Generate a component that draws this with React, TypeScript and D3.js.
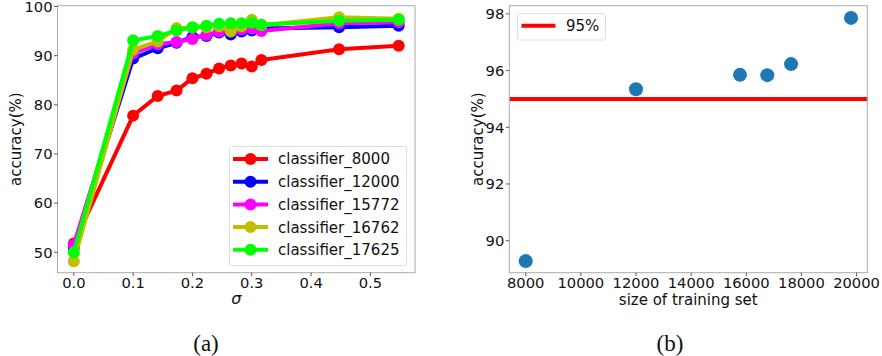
import React from "react";
import * as d3 from "d3";

const sigma = [0, 0.1, 0.1414, 0.1732, 0.2, 0.2236, 0.2449, 0.2646, 0.2828, 0.3, 0.3162, 0.4472, 0.5477];
const acc8000 = [51.8, 77.8, 81.8, 82.9, 85.4, 86.3, 87.4, 88.0, 88.4, 87.8, 89.1, 91.3, 92.0];
const acc12000 = [51.0, 89.4, 91.5, 92.6, 93.8, 94.0, 94.7, 94.3, 94.9, 95.1, 95.5, 95.8, 96.1];
const acc15772 = [51.5, 90.5, 92.3, 92.8, 93.4, 94.2, 94.9, 95.1, 95.3, 95.5, 95.0, 96.6, 96.8];
const acc16762 = [48.2, 91.2, 92.9, 95.6, 95.7, 95.8, 96.0, 94.9, 96.0, 97.3, 96.2, 97.8, 97.5];
const acc17625 = [50.0, 93.1, 94.0, 95.1, 95.8, 96.1, 96.5, 96.6, 96.6, 96.7, 96.3, 97.1, 97.3];
const classifierNames = ["classifier_8000", "classifier_12000", "classifier_15772", "classifier_16762", "classifier_17625"];
const classifierColors = ["#ff0000", "#0000ff", "#ff00ff", "#bfbf00", "#00ff00"];
const leftXTicks = [0, 0.1, 0.2, 0.3, 0.4, 0.5];
const leftYTicks = [50, 60, 70, 80, 90, 100];

const trainSize = [8000, 12000, 15772, 16762, 17625, 19800];
const trainAcc = [89.28, 95.34, 95.85, 95.84, 96.23, 97.86];
const threshold = 95;
const rightXTicks = [8000, 10000, 12000, 14000, 16000, 18000, 20000];
const rightYTicks = [90, 92, 94, 96, 98];

const FONT = "DejaVu Sans, sans-serif";
const SERIF = "Liberation Serif, DejaVu Serif, serif";
const FRAME = "#aaaaaa";
const TICK_FS = 14.7;
const LABEL_FS = 15;

export default function App() {
  const series = [acc8000, acc12000, acc15772, acc16762, acc17625];
  const lx = d3.scaleLinear().domain([-0.0275, 0.5752]).range([57.5, 415]);
  const ly = d3.scaleLinear().domain([45.85, 100.16]).range([272.7, 5.7]);
  const rx = d3.scaleLinear().domain([7405, 20390]).range([509.3, 867.3]);
  const ry = d3.scaleLinear().domain([88.87, 98.29]).range([272.7, 5.7]);
  const line = d3
    .line<number>()
    .x((_, i) => lx(sigma[i]))
    .y((d) => ly(d));

  const lxr = lx.range();
  const lyr = ly.range();
  const rxr = rx.range();
  const ryr = ry.range();

  return (
    <svg width={882} height={356} style={{ position: "absolute", left: 0, top: 0 }}>
      <rect x={0} y={0} width={882} height={356} fill="#fff" />
      {/* Left panel */}
      <g>
        {series.map((s, k) => (
          <g key={k}>
            <path d={line(s) || ""} fill="none" stroke={classifierColors[k]} strokeWidth={4} strokeLinejoin="round" />
            {s.map((v, i) => (
              <circle key={i} cx={lx(sigma[i])} cy={ly(v)} r={6} fill={classifierColors[k]} />
            ))}
          </g>
        ))}
        <rect x={lxr[0]} y={lyr[1]} width={lxr[1] - lxr[0]} height={lyr[0] - lyr[1]} fill="none" stroke={FRAME} strokeWidth={1} />
        {leftXTicks.map((t) => (
          <g key={t}>
            <line x1={lx(t)} x2={lx(t)} y1={lyr[0]} y2={lyr[0] + 3.5} stroke="#333" strokeWidth={0.8} />
            <text x={lx(t)} y={lyr[0] + 15.6} textAnchor="middle" fontFamily={FONT} fontSize={TICK_FS} fill="#111">
              {t.toFixed(1)}
            </text>
          </g>
        ))}
        {leftYTicks.map((t) => (
          <g key={t}>
            <line x1={lxr[0] - 3.5} x2={lxr[0]} y1={ly(t)} y2={ly(t)} stroke="#333" strokeWidth={0.8} />
            <text x={lxr[0] - 5} y={ly(t) + 5.3} textAnchor="end" fontFamily={FONT} fontSize={TICK_FS} fill="#111">
              {t}
            </text>
          </g>
        ))}
        <text transform={`translate(21,${(lyr[0] + lyr[1]) / 2}) rotate(-90)`} textAnchor="middle" fontFamily={FONT} fontSize={LABEL_FS} fill="#111">
          accuracy(%)
        </text>
        <text x={(lxr[0] + lxr[1]) / 2} y={304} textAnchor="middle" fontFamily={FONT} fontStyle="italic" fontSize={16} fill="#111">
          σ
        </text>
        {/* legend */}
        <rect x={229.5} y={146.5} width={177} height={119} rx={2} fill="#fff" fillOpacity={0.85} stroke="#dddddd" strokeWidth={1} />
        {classifierNames.map((n, k) => {
          const yy = 159 + k * 22.7;
          return (
            <g key={n}>
              <line x1={233} x2={268} y1={yy} y2={yy} stroke={classifierColors[k]} strokeWidth={4} />
              <circle cx={250.5} cy={yy} r={6} fill={classifierColors[k]} />
              <text x={278} y={yy + 5.4} fontFamily={FONT} fontSize={LABEL_FS} fill="#111">
                {n}
              </text>
            </g>
          );
        })}
        <text x={206} y={351} textAnchor="middle" fontFamily={SERIF} fontSize={23} fill="#111">
          (a)
        </text>
      </g>

      {/* Right panel */}
      <g>
        <line x1={rxr[0]} x2={rxr[1]} y1={ry(threshold)} y2={ry(threshold)} stroke="#ff0000" strokeWidth={4} />
        {trainSize.map((s, i) => (
          <circle key={s} cx={rx(s)} cy={ry(trainAcc[i])} r={7} fill="#1f77b4" />
        ))}
        <rect x={rxr[0]} y={ryr[1]} width={rxr[1] - rxr[0]} height={ryr[0] - ryr[1]} fill="none" stroke={FRAME} strokeWidth={1} />
        {rightXTicks.map((t) => (
          <g key={t}>
            <line x1={rx(t)} x2={rx(t)} y1={ryr[0]} y2={ryr[0] + 3.5} stroke="#333" strokeWidth={0.8} />
            <text x={rx(t)} y={ryr[0] + 15.6} textAnchor="middle" fontFamily={FONT} fontSize={TICK_FS} fill="#111">
              {t}
            </text>
          </g>
        ))}
        {rightYTicks.map((t) => (
          <g key={t}>
            <line x1={rxr[0] - 3.5} x2={rxr[0]} y1={ry(t)} y2={ry(t)} stroke="#333" strokeWidth={0.8} />
            <text x={rxr[0] - 5} y={ry(t) + 5.3} textAnchor="end" fontFamily={FONT} fontSize={TICK_FS} fill="#111">
              {t}
            </text>
          </g>
        ))}
        <text transform={`translate(483,${(ryr[0] + ryr[1]) / 2}) rotate(-90)`} textAnchor="middle" fontFamily={FONT} fontSize={LABEL_FS} fill="#111">
          accuracy(%)
        </text>
        <text x={(rxr[0] + rxr[1]) / 2} y={304.5} textAnchor="middle" fontFamily={FONT} fontSize={LABEL_FS} fill="#111">
          size of training set
        </text>
        <rect x={517.5} y={13.5} width={88} height={26.5} rx={2} fill="#fff" fillOpacity={0.85} stroke="#dddddd" strokeWidth={1} />
        <line x1={521.5} x2={555.5} y1={25.7} y2={25.7} stroke="#ff0000" strokeWidth={4} />
        <text x={566} y={31.2} fontFamily={FONT} fontSize={LABEL_FS} fill="#111">
          95%
        </text>
        <text x={670} y={351} textAnchor="middle" fontFamily={SERIF} fontSize={23} fill="#111">
          (b)
        </text>
      </g>
    </svg>
  );
}
